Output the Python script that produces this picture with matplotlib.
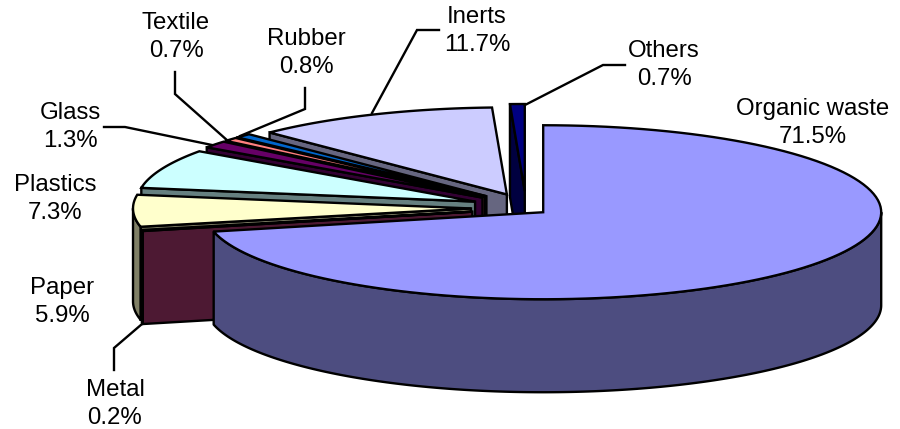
import numpy as np
import matplotlib
matplotlib.use('Agg')
import matplotlib.pyplot as plt
from matplotlib.patches import Polygon

plt.rcParams['font.family'] = ['Liberation Sans', 'DejaVu Sans']

# clockwise from 12 o'clock
names = ['Organic waste', 'Metal', 'Paper', 'Plastics', 'Glass', 'Textile', 'Rubber', 'Inerts', 'Others']
values = [71.5, 0.2, 5.9, 7.3, 1.3, 0.7, 0.8, 11.7, 0.7]
explode = [0.4, 1, 1, 1, 1, 1, 1, 0.87, 1]
top_colors = ['#9999FF', '#993366', '#FFFFCC', '#CCFFFF', '#660066', '#FF8080', '#0066CC', '#CCCCFF', '#000080']
side_colors = ['#4D4D80', '#4D1933', '#808066', '#668080', '#330033', '#804040', '#003366', '#666680', '#000040']

# pie geometry in pixels
cx, cy = 526, 208
rx, ry = 338, 87
depth = 93
ex, ey = 55, 17

# label centres and leader elbows
label_x = [813, 115, 62, 55, 70, 176, 306, 477, 664]
label_y = [123, 404, 302, 199, 127, 37, 53, 31, 65]
leaders = {
    'Metal': [(142, 324), (114, 348), (114, 370)],
    'Glass': [(212, 145), (125, 127), (104, 127)],
    'Textile': [(228, 141), (175, 94), (175, 72)],
    'Rubber': [(240, 136), (305, 109), (305, 88)],
    'Inerts': [(372, 113), (417, 30), (439, 30)],
    'Others': [(525, 105), (603, 65), (625, 65)],
}


def pt(tip, t, dz=0):
    return (tip[0] + rx * np.sin(t), tip[1] - ry * np.cos(t) + dz)


fig = plt.figure(figsize=(9, 4.29), dpi=100)
ax = fig.add_axes([0, 0, 1, 1])
ax.set_xlim(0, 900)
ax.set_ylim(429, 0)
ax.axis('off')

edges = np.cumsum([0] + values) / sum(values) * 2 * np.pi
lw = 1.7

# back wedges first, the big one last
for i in list(range(len(values) - 1, 0, -1)) + [0]:
    t1, t2 = edges[i], edges[i + 1]
    mid = (t1 + t2) / 2
    tip = (cx + explode[i] * ex * np.sin(mid), cy - explode[i] * ey * np.cos(mid))
    ts = np.linspace(t1, t2, 120)

    # cut face, only faces the viewer on the left half
    if t1 > np.pi:
        quad = [tip, pt(tip, t1), pt(tip, t1, depth), (tip[0], tip[1] + depth)]
        ax.add_patch(Polygon(quad, fc=side_colors[i], ec='k', lw=lw, joinstyle='miter'))

    # outer wall
    a, b = max(t1, np.pi / 2), min(t2, 3 * np.pi / 2)
    if b > a:
        tw = np.linspace(a, b, 200)
        wall = [pt(tip, t) for t in tw] + [pt(tip, t, depth) for t in tw[::-1]]
        ax.add_patch(Polygon(wall, fc=side_colors[i], ec='k', lw=lw, joinstyle='round'))

    top = [tip] + [pt(tip, t) for t in ts]
    ax.add_patch(Polygon(top, fc=top_colors[i], ec='k', lw=lw, joinstyle='miter'))

for name, pts in leaders.items():
    xs, ys = zip(*pts)
    ax.plot(xs, ys, color='k', lw=lw, solid_joinstyle='miter')

for name, v, x, y in zip(names, values, label_x, label_y):
    ax.text(x, y, f'{name}\n{v}%', ha='center', va='center', fontsize=17.3,
            linespacing=1.36, color='k')

fig.savefig('out.png', dpi=100)
